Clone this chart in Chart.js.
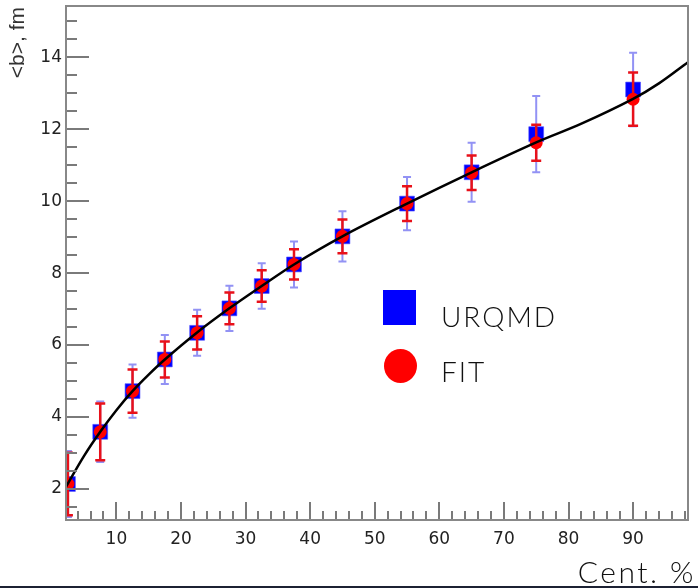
<!DOCTYPE html>
<html>
<head>
<meta charset="utf-8">
<script src="https://cdn.jsdelivr.net/npm/chart.js@4"></script>
<style>
    html, body { margin: 0; padding: 0; background: #fff; }
    #wrap { width: 698px; height: 588px; position: relative; }
</style>
</head>
<body>
<div id="wrap"><canvas id="myChart" width="698" height="588"></canvas></div>
<script>
// --- Data ---
const cent = [2.5, 7.5, 12.5, 17.5, 22.5, 27.5, 32.5, 37.5, 45, 55, 65, 75, 90];
const urqmdB = [2.14, 3.59, 4.72, 5.60, 6.34, 7.02, 7.64, 8.24, 9.02, 9.93, 10.80, 11.86, 13.10];
const urqmdErr = [0.92, 0.84, 0.74, 0.68, 0.64, 0.63, 0.63, 0.64, 0.70, 0.74, 0.82, 1.06, 1.02];
const fitB = [2.14, 3.59, 4.72, 5.60, 6.34, 7.02, 7.64, 8.24, 9.02, 9.93, 10.79, 11.62, 12.83];
const fitErr = [0.87, 0.79, 0.60, 0.50, 0.46, 0.44, 0.44, 0.42, 0.47, 0.48, 0.48, 0.50, 0.74];

// fit curve, sampled from the drawn black line
const curveX = [2.2, 5, 7.5, 10, 12.5, 15, 17.5, 22.5, 27.5, 32.5, 37.5, 45, 55, 65, 75, 82, 90, 94, 98.5];
const curveY = [2.06, 2.92, 3.59, 4.19, 4.72, 5.18, 5.60, 6.35, 7.02, 7.64, 8.24, 9.02, 9.93, 10.80, 11.63, 12.15, 12.84, 13.27, 13.86];

const xTicks = [10, 20, 30, 40, 50, 60, 70, 80, 90];
const yTicks = [2, 4, 6, 8, 10, 12, 14];

const seriesNames = ['URQMD', 'FIT'];
const xTitle = 'Cent. %';
const yTitle = '<b>, fm';

// --- Helpers ---
const toPoints = (xs, ys) => xs.map((x, i) => ({ x: x, y: ys[i] }));

// error bars drawn under each dataset's markers
const errorBars = {
    id: 'errorBars',
    beforeDatasetDraw(chart, args) {
        const ds = chart.data.datasets[args.index];
        if (!ds.errors) return;
        const { ctx, chartArea, scales } = chart;
        ctx.save();
        ctx.beginPath();
        ctx.rect(chartArea.left, chartArea.top, chartArea.right - chartArea.left, chartArea.bottom - chartArea.top);
        ctx.clip();
        ctx.strokeStyle = ds.errColor;
        ctx.lineWidth = ds.errWidth;
        ds.data.forEach((p, i) => {
            const px = scales.x.getPixelForValue(p.x);
            const top = scales.y.getPixelForValue(p.y + ds.errors[i]);
            const bot = scales.y.getPixelForValue(p.y - ds.errors[i]);
            ctx.beginPath();
            ctx.moveTo(px, top); ctx.lineTo(px, bot);
            ctx.moveTo(px - ds.capHalf, top); ctx.lineTo(px + ds.capHalf, top);
            ctx.moveTo(px - ds.capHalf, bot); ctx.lineTo(px + ds.capHalf, bot);
            ctx.stroke();
        });
        ctx.restore();
    }
};

// ROOT-style frame with inward ticks, legend, axis titles
const frameDecor = {
    id: 'frameDecor',
    afterDraw(chart) {
        const { ctx, chartArea: a, scales } = chart;
        ctx.save();
        ctx.strokeStyle = '#7a7a7a';
        ctx.lineWidth = 2;

        // y ticks every 0.5, long at the labelled ones
        for (let v = 1.5; v <= 15.4; v += 0.5) {
            const py = Math.round(scales.y.getPixelForValue(v));
            if (py < a.top || py > a.bottom) continue;
            const len = yTicks.includes(v) ? 23 : 11;
            ctx.beginPath();
            ctx.moveTo(a.left, py); ctx.lineTo(a.left + len, py);
            ctx.stroke();
        }
        // x ticks every 2, long at the labelled ones
        for (let v = 4; v <= 98; v += 2) {
            const px = Math.round(scales.x.getPixelForValue(v));
            const len = xTicks.includes(v) ? 18 : 9;
            ctx.beginPath();
            ctx.moveTo(px, a.bottom); ctx.lineTo(px, a.bottom - len);
            ctx.stroke();
        }
        ctx.strokeStyle = '#888';
        ctx.strokeRect(a.left, a.top, a.right - a.left, a.bottom - a.top);

        // legend
        ctx.fillStyle = '#0000ff';
        ctx.fillRect(383, 290, 33, 35);
        ctx.fillStyle = '#ff0000';
        ctx.beginPath();
        ctx.ellipse(400.5, 366, 16.5, 17, 0, 0, Math.PI * 2);
        ctx.fill();
        ctx.fillStyle = '#111';
        ctx.font = '300 28px Lato';
        ctx.letterSpacing = '2px';
        ctx.textBaseline = 'middle';
        ctx.textAlign = 'left';
        ctx.fillText(seriesNames[0], 441, 318);
        ctx.fillText(seriesNames[1], 441, 373);

        // x title, bottom right
        ctx.font = '300 30px Lato';
        ctx.letterSpacing = '2.5px';
        ctx.textAlign = 'right';
        ctx.textBaseline = 'alphabetic';
        ctx.fillText(xTitle, 696, 583);

        // y title, rotated, top left
        ctx.letterSpacing = '0px';
        ctx.font = '21px "Liberation Sans"';
        ctx.fillStyle = '#333';
        ctx.translate(18.5, 7);
        ctx.rotate(-Math.PI / 2);
        ctx.textAlign = 'right';
        ctx.textBaseline = 'middle';
        ctx.fillText(yTitle, 0, 0);
        ctx.restore();

        // slide edge at the bottom
        ctx.fillStyle = '#1c2133';
        ctx.fillRect(0, 586, chart.width, 2);
    }
};

// --- Chart Initialization ---
Chart.defaults.font.family = '"DejaVu Sans", sans-serif';
const ctx = document.getElementById('myChart');

const myChart = new Chart(ctx, {
    type: 'scatter',
    data: {
        datasets: [
            {
                label: 'fit curve',
                data: toPoints(curveX, curveY),
                showLine: true,
                borderColor: '#000',
                borderWidth: 2.5,
                pointRadius: 0,
                tension: 0.35,
                clip: 0
            },
            {
                label: seriesNames[1],
                data: toPoints(cent, fitB),
                errors: fitErr,
                errColor: '#e8101a',
                errWidth: 2.5,
                capHalf: 5,
                pointStyle: 'circle',
                pointRadius: 6.5,
                backgroundColor: '#ff0000',
                borderColor: '#ff0000',
                borderWidth: 0,
                clip: 0
            },
            {
                label: seriesNames[0],
                data: toPoints(cent, urqmdB),
                errors: urqmdErr,
                errColor: 'rgba(100, 100, 240, 0.7)',
                errWidth: 2,
                capHalf: 4,
                pointStyle: 'rect',
                pointRadius: 10.5,
                backgroundColor: '#0000ff',
                borderColor: 'rgba(80, 80, 255, 0.6)',
                borderWidth: 1,
                clip: 0
            }
        ]
    },
    options: {
        responsive: false,
        animation: false,
        events: [],
        layout: { autoPadding: false, padding: { top: 6, right: 10, left: 0, bottom: 0 } },
        plugins: {
            legend: { display: false },
            tooltip: { enabled: false }
        },
        scales: {
            x: {
                type: 'linear',
                min: 2.2,
                max: 98.5,
                grid: { display: false, drawTicks: false },
                border: { display: false },
                afterBuildTicks: (s) => { s.ticks = xTicks.map(v => ({ value: v })); },
                afterFit: (s) => { s.height = 68; s.paddingLeft = 0; s.paddingRight = 0; },
                ticks: { padding: 9, color: '#222', font: { size: 17 }, maxRotation: 0 }
            },
            y: {
                type: 'linear',
                min: 1.14,
                max: 15.42,
                grid: { display: false, drawTicks: false },
                border: { display: false },
                afterBuildTicks: (s) => { s.ticks = yTicks.map(v => ({ value: v })); },
                afterFit: (s) => { s.width = 66; s.paddingTop = 0; s.paddingBottom = 0; },
                ticks: { padding: 4, color: '#222', font: { size: 17 } }
            }
        }
    },
    plugins: [errorBars, frameDecor]
});
</script>
</body>
</html>
